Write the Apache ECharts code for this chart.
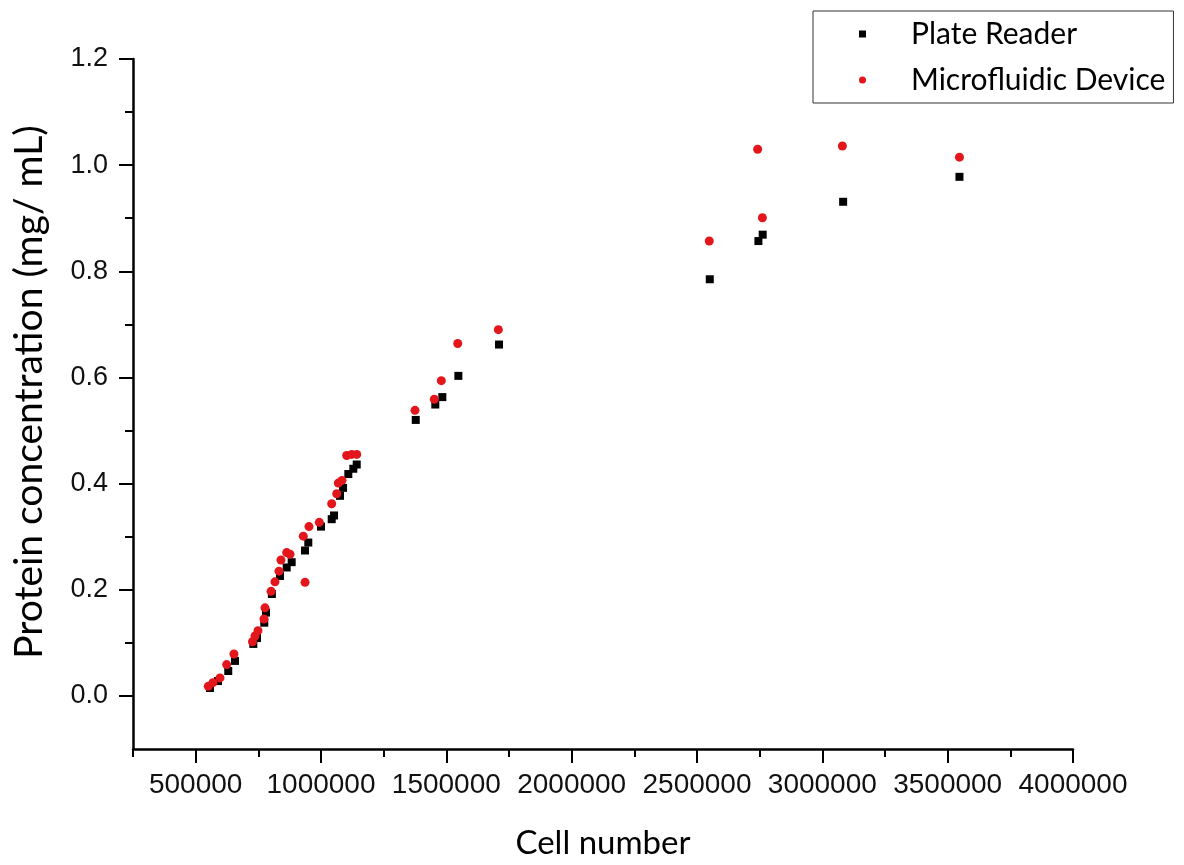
<!DOCTYPE html>
<html>
<head>
<meta charset="utf-8">
<style>
  html, body { margin: 0; padding: 0; background: #fff; }
  #chart { width: 1184px; height: 865px; }
</style>
</head>
<body>
<div id="chart"></div>
<script src="https://cdn.jsdelivr.net/npm/echarts@6/dist/echarts.min.js"></script>
<script>
// Plate Reader (black squares)
var plateX = [557000, 589000, 630000, 657000, 730000, 744600, 773700, 780500, 804000, 836400,
  863100, 883000, 936100, 949300, 1000000, 1042700, 1052000, 1075800, 1088000, 1109000,
  1128900, 1142500, 1378000, 1456000, 1484000, 1548000, 1710000, 2551000, 2745000, 2762000,
  3083000, 3547000];
var plateY = [0.015, 0.028, 0.047, 0.066, 0.098, 0.109, 0.138, 0.157, 0.192, 0.226,
  0.242, 0.252, 0.274, 0.289, 0.319, 0.333, 0.340, 0.377, 0.392, 0.418,
  0.428, 0.436, 0.520, 0.549, 0.563, 0.603, 0.662, 0.785, 0.857, 0.869,
  0.931, 0.978];

// Microfluidic Device (red circles)
var microX = [550300, 569000, 597000, 623700, 652800, 726700, 736600, 748600, 772500, 776500,
  800700, 816400, 832400, 840300, 863100, 876300, 929400, 936300, 952100, 993200,
  1042700, 1062700, 1069000, 1083800, 1102500, 1122500, 1142500, 1375000, 1452000, 1480000,
  1545400, 1707500, 2549000, 2742000, 2761000, 3080000, 3547000];
var microY = [0.018, 0.025, 0.034, 0.059, 0.079, 0.102, 0.113, 0.123, 0.145, 0.166,
  0.197, 0.215, 0.235, 0.256, 0.270, 0.267, 0.301, 0.214, 0.319, 0.327,
  0.362, 0.381, 0.401, 0.406, 0.453, 0.455, 0.455, 0.538, 0.559, 0.594,
  0.664, 0.690, 0.857, 1.030, 0.901, 1.036, 1.015];

// tick positions
var xMajor = [500000, 1000000, 1500000, 2000000, 2500000, 3000000, 3500000, 4000000];
var xMinor = [250000, 750000, 1250000, 1750000, 2250000, 2750000, 3250000, 3750000];
var yMajor = [0, 0.2, 0.4, 0.6, 0.8, 1.0, 1.2];
var yMinor = [0.1, 0.3, 0.5, 0.7, 0.9, 1.1];

function zip(xs, ys) {
  var out = [];
  for (var i = 0; i < xs.length; i++) out.push([xs[i], ys[i]]);
  return out;
}

var lineStyle = { color: '#000', width: 2.5 };
var tickStyle = { color: '#000', width: 2 };
var tickFont = 'Liberation Sans, Arial, sans-serif';
var titleFont = 'Lato, sans-serif';

var chart = echarts.init(document.getElementById('chart'));
chart.setOption({
  animation: false,
  backgroundColor: '#fff',
  grid: { left: 133, right: 111, top: 59, bottom: 116 },
  legend: {
    orient: 'vertical',
    left: 813,
    top: 11,
    borderColor: '#333',
    borderWidth: 1,
    padding: [8, 8, 8, 46],
    itemWidth: 7,
    itemHeight: 7,
    itemGap: 16,
    textStyle: {
      fontFamily: titleFont,
      fontSize: 30,
      lineHeight: 30,
      color: '#000',
      padding: [0, 0, 0, 40]
    },
    data: [
      { name: 'Plate Reader', icon: 'rect' },
      { name: 'Microfluidic Device', icon: 'circle' }
    ]
  },
  xAxis: [{
    type: 'value',
    min: 250000,
    max: 4000000,
    name: 'Cell number',
    nameLocation: 'middle',
    nameGap: 78,
    nameTextStyle: { fontFamily: titleFont, fontSize: 33, color: '#000' },
    axisLine: { show: true, onZero: false, lineStyle: lineStyle },
    axisTick: { show: true, inside: false, length: 14, customValues: xMajor, lineStyle: tickStyle },
    axisLabel: {
      customValues: xMajor,
      margin: 22,
      fontFamily: tickFont,
      fontSize: 28,
      color: '#111',
      formatter: function (v) { return String(v); }
    },
    splitLine: { show: false }
  }, {
    type: 'value',
    min: 250000,
    max: 4000000,
    position: 'bottom',
    axisLine: { show: false, onZero: false },
    axisTick: { show: true, inside: false, length: 8, customValues: xMinor, lineStyle: tickStyle },
    axisLabel: { show: false },
    splitLine: { show: false }
  }],
  yAxis: [{
    type: 'value',
    min: -0.1,
    max: 1.2,
    name: 'Protein concentration (mg/ mL)',
    nameLocation: 'middle',
    nameGap: 84,
    nameTextStyle: {
      fontFamily: titleFont,
      fontSize: 39,
      color: '#000',
      padding: [0, 0, 0, 24]
    },
    axisLine: { show: true, onZero: false, lineStyle: lineStyle },
    axisTick: { show: true, inside: false, length: 14, customValues: yMajor, lineStyle: tickStyle },
    axisLabel: {
      customValues: yMajor,
      margin: 25,
      fontFamily: tickFont,
      fontSize: 27,
      color: '#111',
      formatter: function (v) { return v.toFixed(1); }
    },
    splitLine: { show: false }
  }, {
    type: 'value',
    min: -0.1,
    max: 1.2,
    position: 'left',
    axisLine: { show: false, onZero: false },
    axisTick: { show: true, inside: false, length: 8, customValues: yMinor, lineStyle: tickStyle },
    axisLabel: { show: false },
    splitLine: { show: false }
  }],
  series: [
    {
      name: 'Plate Reader',
      type: 'scatter',
      symbol: 'rect',
      symbolSize: 8,
      itemStyle: { color: '#000', opacity: 1 },
      data: zip(plateX, plateY)
    },
    {
      name: 'Microfluidic Device',
      type: 'scatter',
      symbol: 'circle',
      symbolSize: 9,
      itemStyle: { color: '#e3161b', opacity: 1 },
      data: zip(microX, microY)
    }
  ]
});
</script>
</body>
</html>
